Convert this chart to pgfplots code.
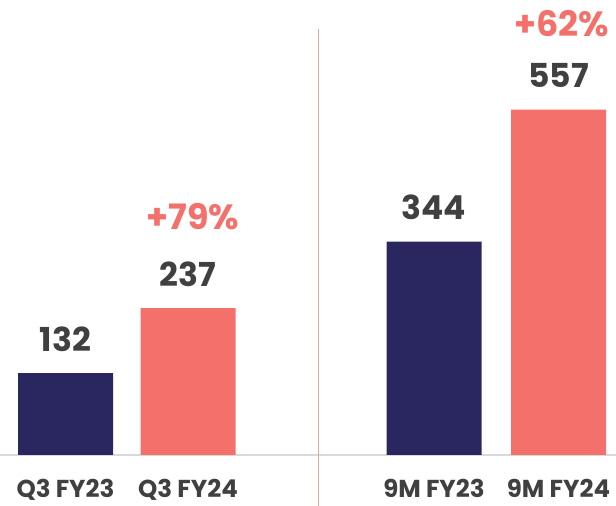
\documentclass[border=0pt]{standalone}
\usepackage{fontspec}
\setmainfont{Poppins}
\usepackage{pgfplots}
\pgfplotsset{compat=1.18}
\definecolor{navy}{HTML}{2A2660}
\definecolor{salmon}{HTML}{F4706B}
\definecolor{txt}{HTML}{404040}
\definecolor{divider}{HTML}{F7A19D}
\begin{document}
\begin{tikzpicture}
\useasboundingbox (0,-51pt) rectangle (616pt,455pt);
\begin{axis}[
  at={(0,0)}, anchor=origin,
  scale only axis, width=616pt, height=455pt,
  xmin=0, xmax=616, ymin=0, ymax=733.87,
  axis x line=bottom, axis y line=none,
  x axis line style={draw=gray!30, line width=1.5pt, -},
  xtick={65.5,188,434,558.5},
  xticklabels={Q3 FY23,Q3 FY24,9M FY23,9M FY24},
  xtick style={draw=none},
  xticklabel style={font=\bfseries\fontsize{24.5}{28}\selectfont, text=txt, yshift=-19pt},
  ytick=\empty,
  clip=false,
  nodes near coords,
  nodes near coords style={anchor=center, yshift=34pt, font=\bfseries\fontsize{33}{40}\selectfont, text=txt, /pgf/number format/assume math mode=true},
]
\addplot[ybar, bar width=95, bar shift=0pt, fill=navy, draw=none] coordinates {(65.5,132) (434,344)};
\addplot[ybar, bar width=95, bar shift=0pt, fill=salmon, draw=none] coordinates {(188,237) (558.5,557)};
\node[text=salmon, font=\bfseries\fontsize{35}{40}\selectfont, anchor=center] at (axis cs:193,237) [yshift=91pt] {+79\%};
\node[text=salmon, font=\bfseries\fontsize{35}{40}\selectfont, anchor=center] at (axis cs:562,557) [yshift=86pt] {+62\%};
\draw[divider, line width=1pt] (axis cs:318,0) ++(0,-51pt) -- (axis cs:318,687.1);
\end{axis}
\end{tikzpicture}
\end{document}
